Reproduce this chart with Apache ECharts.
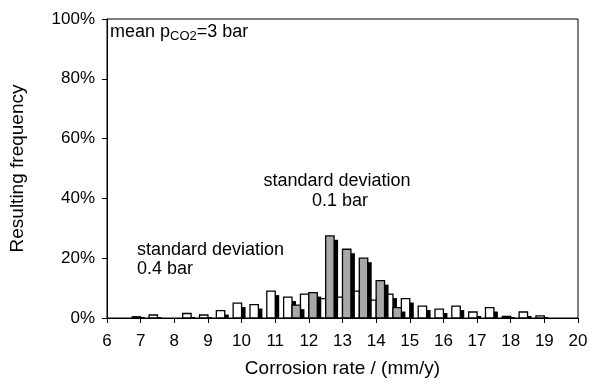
<!DOCTYPE html>
<html>
<head>
<meta charset="utf-8">
<script src="https://cdn.jsdelivr.net/npm/echarts@6/dist/echarts.min.js"></script>
<style>
  html, body { margin: 0; padding: 0; background: #fff; }
  #chart { width: 597px; height: 386px; }
</style>
</head>
<body>
<div id="chart"></div>
<script>
// Histogram bin centres (mm/y), bin width 0.5
const binCentres = [7.0, 7.5, 8.0, 8.5, 9.0, 9.5, 10.0, 10.5, 11.0, 11.5, 12.0, 12.5,
                    13.0, 13.5, 14.0, 14.5, 15.0, 15.5, 16.0, 16.5, 17.0, 17.5, 18.0, 18.5, 19.0];
// Resulting frequency (%) for standard deviation 0.4 bar
const freqSd04 = [0.4, 1.0, 0, 1.5, 1.0, 2.5, 5.0, 4.5, 9.0, 7.0, 8.0, 6.5,
                  7.0, 9.0, 6.0, 8.0, 6.5, 4.0, 3.0, 4.0, 2.0, 3.5, 0.5, 2.0, 0.7];
// Resulting frequency (%) for standard deviation 0.1 bar
const freqSd01 = [0, 0, 0, 0, 0, 0, 0, 0, 0, 4.3, 8.5, 27.5,
                  23.0, 20.0, 12.5, 3.5, 0, 0, 0, 0, 0, 0, 0, 0, 0];
const xTicks = [6, 20, 1];
const yTicks = [0, 100, 20];

const FONT = 'Liberation Sans, Arial, sans-serif';

// Bar with a hard drop shadow, placed half a bin wide either side of the centre
function barRenderer(fill, leftSide) {
  return function (params, api) {
    const c = api.value(0);
    const v = api.value(1);
    if (!(v > 0)) return null;
    const a = api.coord([leftSide ? c - 0.25 : c, 0]);
    const b = api.coord([leftSide ? c : c + 0.25, v]);
    const x = a[0], w = b[0] - a[0];
    const yTop = b[1], h = a[1] - b[1];
    const off = 4;
    return {
      type: 'group',
      children: [
        {
          type: 'rect',
          shape: { x: x + off, y: Math.min(yTop + off, a[1] - 1), width: w, height: Math.max(h - off, 1) },
          style: { fill: '#000' }
        },
        {
          type: 'rect',
          shape: { x: x, y: yTop, width: w, height: h },
          style: { fill: fill, stroke: '#000', lineWidth: 1.3 }
        }
      ]
    };
  };
}

const chart = echarts.init(document.getElementById('chart'), null, { renderer: 'canvas' });
chart.setOption({
  animation: false,
  backgroundColor: '#fff',
  textStyle: { fontFamily: FONT },
  grid: { left: 106, right: 19, top: 19, bottom: 68, show: true, borderColor: '#000', borderWidth: 1, backgroundColor: 'transparent' },
  xAxis: {
    type: 'value', min: xTicks[0], max: xTicks[1], interval: xTicks[2],
    axisLine: { show: true, lineStyle: { color: '#000', width: 1 } },
    axisTick: { show: true, inside: false, length: 5, lineStyle: { color: '#000' } },
    axisLabel: { color: '#000', fontSize: 17, fontFamily: FONT, margin: 15 },
    splitLine: { show: false },
    name: 'Corrosion rate / (mm/y)', nameLocation: 'middle', nameGap: 41,
    nameTextStyle: { color: '#000', fontSize: 19, fontFamily: FONT }
  },
  yAxis: {
    type: 'value', min: yTicks[0], max: yTicks[1], interval: yTicks[2],
    axisLine: { show: true, lineStyle: { color: '#000', width: 1 } },
    axisTick: { show: true, length: 5, lineStyle: { color: '#000' } },
    axisLabel: { color: '#000', fontSize: 17, fontFamily: FONT, margin: 12, formatter: '{value}%' },
    splitLine: { show: false },
    name: 'Resulting frequency', nameLocation: 'middle', nameGap: 80,
    nameTextStyle: { color: '#000', fontSize: 19, fontFamily: FONT }
  },
  series: [
    {
      name: 'standard deviation 0.4 bar', type: 'custom',
      renderItem: barRenderer('#fff', true),
      data: binCentres.map((c, i) => [c, freqSd04[i]]),
      encode: { x: 0, y: 1 }
    },
    {
      name: 'standard deviation 0.1 bar', type: 'custom',
      renderItem: barRenderer('#a8a8a8', false),
      data: binCentres.map((c, i) => [c, freqSd01[i]]),
      encode: { x: 0, y: 1 }
    }
  ],
  graphic: [
    {
      type: 'text', x: 110, y: 32,
      style: {
        text: 'mean p{sub|CO2}=3 bar',
        font: '18px ' + FONT, fill: '#000', verticalAlign: 'middle',
        rich: { sub: { fontSize: 13, fontFamily: FONT, fill: '#000', padding: [8, 0, 0, 0] } }
      }
    },
    {
      type: 'text', x: 137, y: 250,
      style: { text: 'standard deviation', font: '18px ' + FONT, fill: '#000', verticalAlign: 'middle' }
    },
    {
      type: 'text', x: 137, y: 269,
      style: { text: '0.4 bar', font: '18px ' + FONT, fill: '#000', verticalAlign: 'middle' }
    },
    {
      type: 'text', x: 337, y: 181,
      style: { text: 'standard deviation', font: '18px ' + FONT, fill: '#000', align: 'center', verticalAlign: 'middle' }
    },
    {
      type: 'text', x: 340, y: 201,
      style: { text: '0.1 bar', font: '18px ' + FONT, fill: '#000', align: 'center', verticalAlign: 'middle' }
    }
  ]
});
</script>
</body>
</html>
